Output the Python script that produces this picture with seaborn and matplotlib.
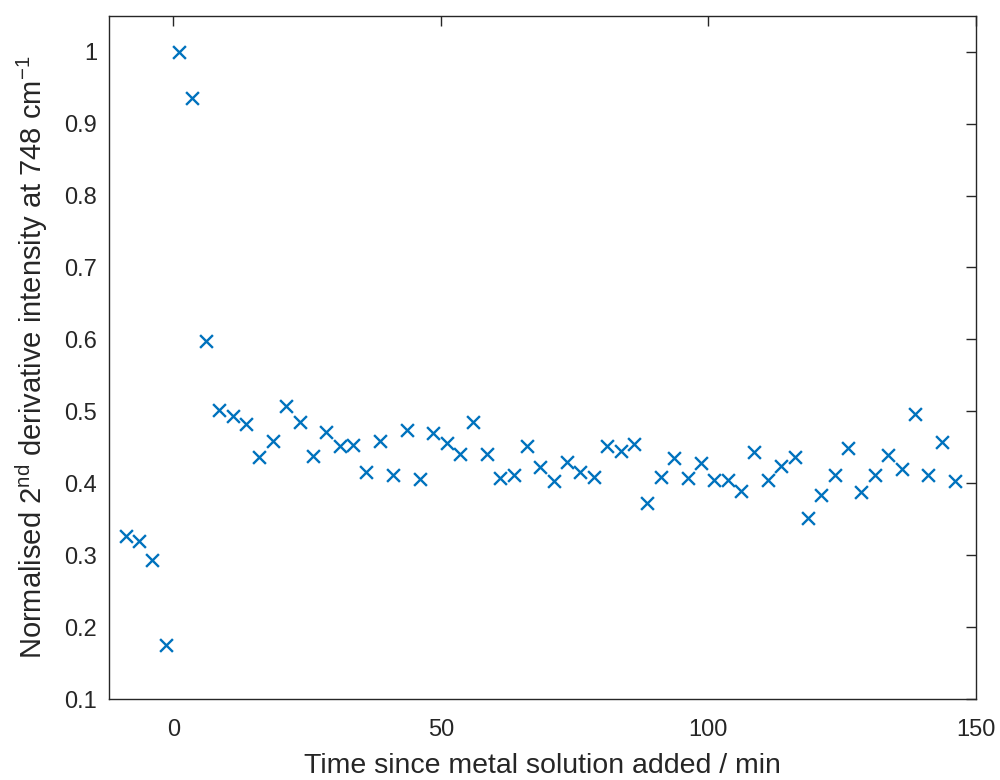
import matplotlib
matplotlib.use("Agg")
import matplotlib.pyplot as plt
import seaborn as sns
import pandas as pd

# Time relative to the addition of the metal solution (min)
time_min = [
    -8.9, -6.4, -3.9, -1.4, 1.1, 3.6, 6.1, 8.6, 11.1, 13.6,
    16.1, 18.6, 21.1, 23.6, 26.1, 28.6, 31.1, 33.6, 36.1, 38.6,
    41.1, 43.6, 46.1, 48.6, 51.1, 53.6, 56.1, 58.6, 61.1, 63.6,
    66.1, 68.6, 71.1, 73.6, 76.1, 78.6, 81.1, 83.6, 86.1, 88.6,
    91.1, 93.6, 96.1, 98.6, 101.1, 103.6, 106.1, 108.6, 111.1, 113.6,
    116.1, 118.6, 121.1, 123.6, 126.1, 128.6, 131.1, 133.6, 136.1, 138.6,
    141.1, 143.6, 146.1,
]

# Normalised second-derivative intensity at 748 cm^-1
intensity = [
    0.327, 0.320, 0.294, 0.175, 1.000, 0.935, 0.598, 0.502, 0.493, 0.483,
    0.437, 0.459, 0.507, 0.485, 0.438, 0.472, 0.452, 0.454, 0.416, 0.459,
    0.411, 0.474, 0.406, 0.470, 0.456, 0.441, 0.485, 0.441, 0.407, 0.411,
    0.452, 0.423, 0.403, 0.430, 0.416, 0.409, 0.452, 0.445, 0.455, 0.373,
    0.409, 0.435, 0.408, 0.429, 0.404, 0.404, 0.390, 0.443, 0.405, 0.424,
    0.437, 0.352, 0.384, 0.412, 0.449, 0.388, 0.412, 0.440, 0.420, 0.497,
    0.412, 0.458, 0.403,
]

x_ticks = [0, 50, 100, 150]
y_ticks = [0.1, 0.2, 0.3, 0.4, 0.5, 0.6, 0.7, 0.8, 0.9, 1.0]
y_tick_labels = ["0.1", "0.2", "0.3", "0.4", "0.5", "0.6", "0.7", "0.8", "0.9", "1"]

sns.set_theme(style="white")
plt.rcParams["font.family"] = ["Liberation Sans", "DejaVu Sans"]
plt.rcParams["mathtext.default"] = "regular"

ink = "#262626"
blue = "#0072BD"

df = pd.DataFrame({"time": time_min, "intensity": intensity})

fig = plt.figure(figsize=(10, 7.8), dpi=100)
ax = fig.add_axes([0.109, 0.1035, 0.867, 0.8765])

sns.scatterplot(data=df, x="time", y="intensity", marker="x", s=85,
                color=blue, linewidth=1.7, ax=ax, legend=False)

ax.set_xlim(-12, 150)
ax.set_ylim(0.1, 1.05)
ax.set_xticks(x_ticks)
ax.set_yticks(y_ticks)
ax.set_yticklabels(y_tick_labels)

ax.tick_params(direction="in", length=7, width=1.0, colors=ink,
               labelsize=17, top=True, right=True)
ax.tick_params(axis="x", pad=14)
ax.tick_params(axis="y", pad=8.5)
for sp in ax.spines.values():
    sp.set_visible(True)
    sp.set_color(ink)
    sp.set_linewidth(1.0)

ax.set_xlabel("Time since metal solution added / min", fontsize=20.5, color=ink)
ax.set_ylabel(r"Normalised 2$^{nd}$ derivative intensity at 748 cm$^{-1}$",
              fontsize=21, color=ink)
ax.xaxis.set_label_coords(0.5, -0.078)
ax.yaxis.set_label_coords(-0.068, 0.5)

fig.savefig("out.png", dpi=100)
